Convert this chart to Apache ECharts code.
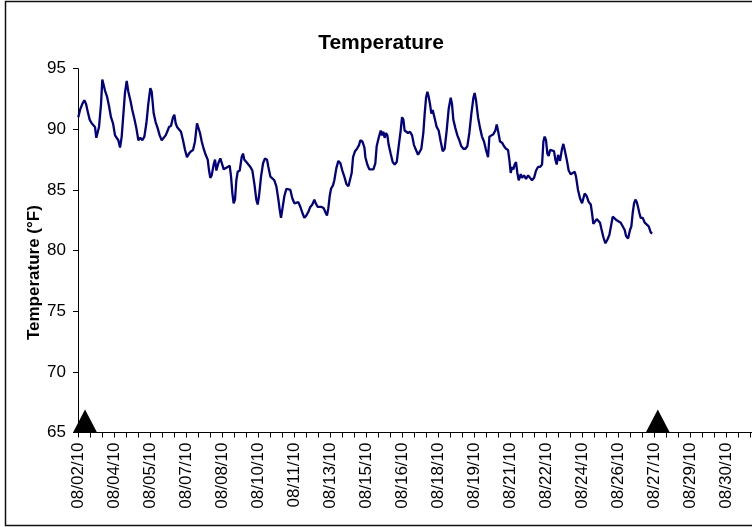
<!DOCTYPE html>
<html>
<head>
<meta charset="utf-8">
<script src="https://cdn.jsdelivr.net/npm/echarts@6/dist/echarts.min.js"></script>
<style>
  html, body { margin: 0; padding: 0; background: #fff; }
  #chart { width: 752px; height: 527px; }
</style>
</head>
<body>
<div id="chart"></div>
<script>
// x axis labels, one every label step
const dateLabels = ['08/02/10', '08/04/10', '08/05/10', '08/07/10', '08/08/10', '08/10/10', '08/11/10',
  '08/13/10', '08/15/10', '08/16/10', '08/18/10', '08/19/10', '08/21/10', '08/22/10', '08/24/10',
  '08/26/10', '08/27/10', '08/29/10', '08/30/10'];
const HOURS_PER_LABEL = 37.33;

// hours since the first axis label
const hours = [
  0.3, 2.1, 4.5, 6.6, 8.3, 10.0, 12.1, 14.2, 15.9, 17.6,
  19.0, 20.4, 21.8, 23.9, 25.2, 26.6, 28.0, 30.1, 32.2, 34.2,
  36.3, 38.4, 40.4, 41.8, 43.6, 45.3, 47.4, 48.7, 50.5, 52.2,
  54.3, 56.3, 58.4, 60.5, 62.6, 64.6, 66.7, 68.8, 70.9, 72.9,
  75.0, 76.4, 78.5, 80.5, 82.6, 84.7, 86.8, 88.8, 90.9, 93.0,
  94.4, 96.5, 98.5, 99.9, 101.3, 102.7, 104.7, 106.8, 108.9, 111.0,
  113.0, 115.1, 117.2, 119.3, 121.3, 123.4, 124.8, 126.5, 128.3, 130.3,
  132.4, 134.5, 135.9, 137.2, 138.6, 140.7, 142.1, 143.5, 145.5, 147.6,
  149.0, 151.1, 153.1, 155.2, 157.3, 158.7, 160.1, 161.4, 162.8, 164.2,
  165.6, 167.7, 169.7, 171.1, 172.5, 174.6, 176.7, 178.7, 180.8, 182.9,
  184.9, 186.3, 187.7, 189.8, 191.9, 193.9, 196.0, 197.4, 199.5, 201.5,
  203.6, 205.7, 207.8, 209.1, 210.5, 211.9, 214.0, 216.1, 218.1, 220.2,
  222.3, 224.4, 226.4, 228.5, 230.6, 232.7, 234.7, 236.8, 238.9, 240.9,
  243.0, 245.1, 246.5, 248.6, 250.6, 252.7, 254.8, 256.9, 258.2, 259.6,
  261.0, 262.4, 264.5, 265.8, 267.9, 270.0, 272.1, 274.1, 276.2, 278.3,
  280.4, 282.4, 283.8, 285.2, 287.3, 289.3, 291.4, 292.8, 294.9, 297.0,
  298.0, 300.0, 302.1, 304.2, 306.3, 308.3, 309.7, 311.8, 313.9, 315.2,
  316.6, 318.0, 319.4, 320.8, 322.2, 324.2, 326.3, 328.4, 330.5, 332.5,
  334.6, 336.0, 337.4, 338.7, 340.1, 342.2, 344.3, 346.4, 348.4, 350.5,
  352.6, 354.7, 356.0, 358.1, 359.5, 360.9, 362.3, 363.6, 365.0, 366.4,
  367.8, 369.9, 371.9, 374.0, 376.1, 378.2, 380.2, 382.3, 384.4, 386.5,
  387.8, 389.2, 391.3, 393.4, 395.4, 397.5, 399.6, 401.7, 403.7, 405.8,
  407.9, 410.0, 411.3, 412.7, 414.8, 416.9, 418.9, 421.0, 423.1, 425.2,
  426.6, 428.6, 430.7, 432.8, 434.2, 435.5, 437.6, 439.7, 441.8, 443.8,
  445.9, 447.3, 448.7, 450.1, 451.4, 452.8, 454.2, 455.6, 457.0, 459.1,
  460.4, 462.5, 464.6, 466.7, 468.7, 470.8, 472.9, 475.0, 477.0, 479.1,
  481.2, 482.6, 483.9, 485.3, 486.7, 488.1, 489.5, 491.5, 493.6, 495.0,
  496.4, 497.8, 499.8, 501.9, 503.3, 504.7, 506.8, 508.8, 510.9, 513.0,
  515.1, 516.4, 518.5, 520.6, 522.7, 524.0, 525.4, 527.5, 529.6, 531.7,
  533.0, 534.4, 535.8, 537.9, 539.9, 541.3, 542.7, 544.8, 546.9, 548.9,
  551.0, 553.1, 554.5, 556.5, 558.6, 560.7, 562.8, 564.8, 566.9, 568.3,
  570.4, 572.4, 573.8, 575.2, 576.6, 578.0, 579.4, 580.7, 582.1, 583.5,
  585.6, 587.7, 589.7, 591.8, 593.9, 595.3
];

const tempF = [
  91.0, 91.6, 92.1, 92.4, 92.1, 91.5, 90.8, 90.5, 90.4, 90.2,
  89.3, 89.4, 90.2, 92.1, 94.1, 94.1, 93.2, 92.7, 91.9, 91.0,
  90.5, 89.5, 89.4, 89.1, 88.5, 89.4, 91.6, 93.0, 94.0, 93.1,
  92.4, 91.6, 90.9, 90.1, 89.1, 89.3, 89.1, 89.4, 90.5, 92.1,
  93.4, 93.1, 91.3, 90.6, 90.1, 89.5, 89.1, 89.2, 89.5, 89.9,
  90.2, 90.3, 91.0, 91.2, 90.5, 90.2, 90.1, 89.8, 89.1, 88.3,
  87.7, 88.0, 88.2, 88.3, 89.0, 90.5, 90.4, 89.7, 89.0, 88.4,
  87.9, 87.5, 86.6, 86.0, 86.2, 87.1, 87.5, 86.6, 87.2, 87.6,
  87.5, 86.7, 86.8, 86.9, 87.0, 86.1, 84.7, 83.9, 84.2, 85.8,
  86.5, 86.6, 87.7, 88.0, 87.5, 87.3, 87.1, 86.9, 86.6, 85.5,
  84.2, 83.8, 84.5, 86.1, 87.2, 87.6, 87.5, 86.9, 86.1, 86.0,
  85.8, 85.3, 84.2, 83.4, 82.7, 83.4, 84.5, 85.1, 85.2, 85.0,
  84.3, 83.9, 83.9, 84.0, 83.6, 83.1, 82.7, 82.9, 83.2, 83.6,
  83.8, 84.2, 83.9, 83.6, 83.6, 83.6, 83.5, 83.1, 82.9, 83.5,
  84.5, 85.1, 85.4, 85.8, 86.8, 87.4, 87.2, 86.6, 86.1, 85.5,
  85.3, 85.4, 86.4, 87.7, 88.2, 88.4, 88.7, 89.1, 89.0, 88.5,
  87.7, 87.1, 86.7, 86.7, 86.7, 87.2, 88.6, 89.3, 89.9, 89.5,
  89.8, 89.3, 89.7, 89.5, 88.7, 88.0, 87.3, 87.1, 87.3, 88.6,
  89.9, 91.0, 90.8, 89.9, 90.0, 89.7, 89.8, 89.5, 88.7, 88.3,
  87.9, 88.2, 88.4, 89.7, 91.3, 92.6, 93.1, 92.7, 92.1, 91.3,
  91.6, 90.9, 90.2, 89.9, 89.0, 88.2, 88.4, 89.9, 91.7, 92.6,
  92.1, 90.8, 90.1, 89.5, 89.1, 88.6, 88.4, 88.4, 88.6, 89.7,
  91.3, 92.6, 93.0, 92.4, 91.0, 90.1, 89.4, 89.0, 88.3, 87.7,
  89.4, 89.5, 89.6, 89.9, 90.4, 89.9, 89.0, 88.9, 88.6, 88.4,
  88.3, 87.5, 86.4, 86.9, 86.7, 87.1, 87.3, 86.4, 85.8, 86.3,
  86.0, 86.2, 85.9, 86.2, 86.0, 85.8, 86.0, 86.6, 86.9, 86.9,
  87.1, 89.0, 89.4, 89.1, 88.0, 87.8, 88.3, 88.3, 88.2, 87.5,
  87.1, 87.9, 87.4, 88.4, 88.8, 88.3, 87.5, 86.6, 86.3, 86.4,
  86.5, 86.1, 85.0, 84.3, 83.9, 84.3, 84.7, 84.5, 84.0, 83.8,
  83.1, 82.2, 82.3, 82.6, 82.7, 82.3, 81.8, 81.1, 80.6, 80.9,
  81.3, 82.2, 82.8, 82.7, 82.5, 82.4, 82.3, 82.2, 81.7, 81.2,
  81.0, 81.7, 82.0, 83.1, 83.9, 84.2, 84.0, 83.6, 83.1, 82.7,
  82.7, 82.3, 82.4, 82.0, 81.5, 81.4
];

// event markers (triangles on the axis)
const markerHours = [7.3, 601.2];
const markerLevel = 65;

const font = "'Liberation Sans', Arial, sans-serif";

const lineData = hours.map((h, i) => [h / HOURS_PER_LABEL, tempF[i]]);
const markerData = markerHours.map(h => [h / HOURS_PER_LABEL, markerLevel]);

const chart = echarts.init(document.getElementById('chart'));

const option = {
  animation: false,
  backgroundColor: '#fff',
  textStyle: { fontFamily: font },
  title: {
    text: 'Temperature',
    left: 376,
    top: 28,
    textAlign: 'center',
    textStyle: { fontFamily: font, fontSize: 21, fontWeight: 'bold', color: '#000' }
  },
  graphic: [{
    type: 'rect',
    shape: { x: 5.5, y: 1.5, width: 800, height: 524 },
    style: { fill: 'none', stroke: '#111', lineWidth: 1.5 },
    silent: true
  }],
  grid: {
    left: 78,
    top: 68.7,
    right: -10,
    bottom: 94.5,
    outerBoundsMode: 'none'
  },
  xAxis: {
    type: 'value',
    min: 0,
    max: 19,
    interval: 1,
    axisLine: { show: true, lineStyle: { color: '#000', width: 1 } },
    axisTick: { show: true, length: 5, lineStyle: { color: '#000' } },
    minorTick: { show: true, splitNumber: 3, length: 5, lineStyle: { color: '#000' } },
    splitLine: { show: false },
    axisLabel: {
      rotate: 90,
      margin: 10,
      fontFamily: font,
      fontSize: 17,
      color: '#000',
      formatter: v => dateLabels[Math.round(v)] || ''
    }
  },
  yAxis: {
    type: 'value',
    min: 65,
    max: 95,
    interval: 5,
    name: 'Temperature (°F)',
    nameLocation: 'middle',
    nameGap: 35,
    nameMoveOverlap: false,
    nameTextStyle: {
      fontFamily: font, fontSize: 17, fontWeight: 'bold', color: '#000',
      padding: [0, 44, 0, 0]
    },
    axisLine: { show: true, lineStyle: { color: '#000', width: 1 } },
    axisTick: { show: true, length: 5, lineStyle: { color: '#000' } },
    splitLine: { show: false },
    axisLabel: { margin: 12, fontFamily: font, fontSize: 17, color: '#000' }
  },
  series: [
    {
      type: 'line',
      data: lineData,
      showSymbol: false,
      lineStyle: { color: '#000080', width: 2.3 },
      itemStyle: { color: '#000080' }
    },
    {
      type: 'scatter',
      data: markerData,
      symbol: 'triangle',
      symbolSize: [24, 23],
      symbolOffset: [0, '-50%'],
      itemStyle: { color: '#000', opacity: 1 },
      clip: false,
      z: 5
    }
  ]
};

chart.setOption(option);
</script>
</body>
</html>
